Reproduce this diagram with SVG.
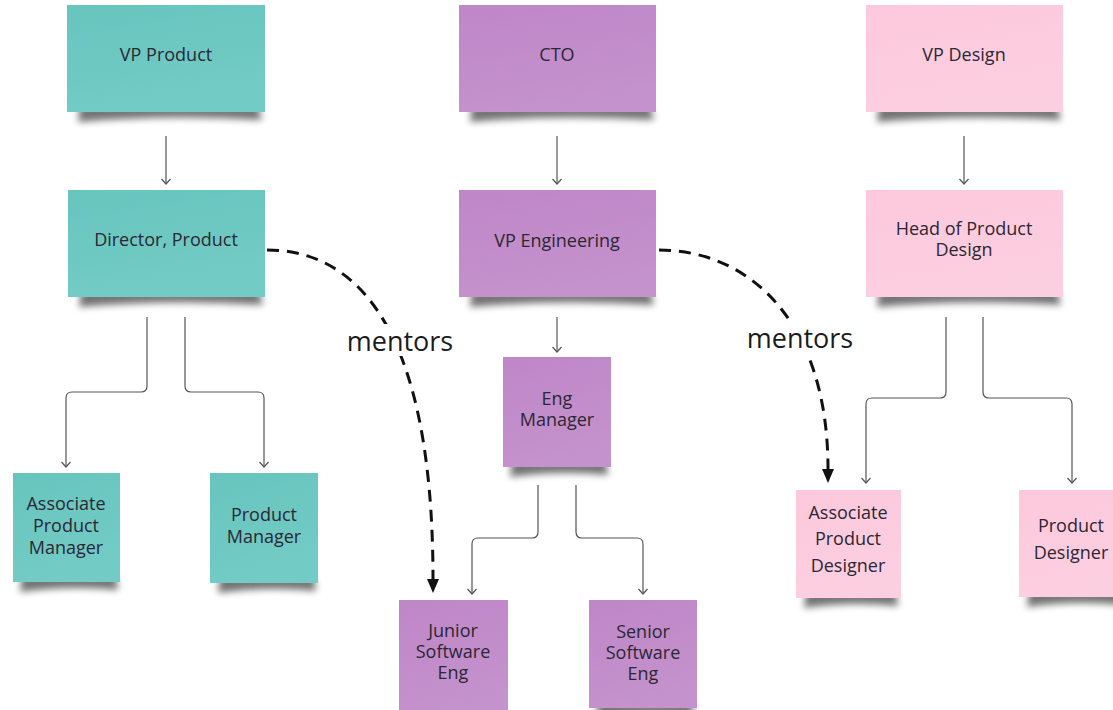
<svg xmlns="http://www.w3.org/2000/svg" width="1113" height="710" viewBox="0 0 1113 710">
<style>
  .t { font-family: "Open Sans", "Noto Sans", "Liberation Sans", sans-serif; font-size: 18px; fill: #2b2733; text-anchor: middle; }
  .m { font-family: "Open Sans", "Noto Sans", "Liberation Sans", sans-serif; font-size: 27px; fill: #1c1c1c; text-anchor: middle; }
  .ln { fill: none; stroke: #555; stroke-width: 1.2; marker-end: url(#open); }
  .ds { fill: none; stroke: #111; stroke-width: 3; stroke-dasharray: 12 8; marker-end: url(#solid); }
  .sh { fill: #000; opacity: 0.55; filter: url(#blur); }
  .teal { fill: url(#gTeal); }
  .purp { fill: url(#gPurp); }
  .pink { fill: url(#gPink); }
</style>
<defs>
  <filter id="blur" x="-20%" y="-100%" width="140%" height="300%">
    <feGaussianBlur stdDeviation="3.5"/>
  </filter>
  <linearGradient id="gTeal" x1="0" y1="0" x2="0.3" y2="1">
    <stop offset="0" stop-color="#67c5be"/>
    <stop offset="1" stop-color="#73cbc5"/>
  </linearGradient>
  <linearGradient id="gPurp" x1="0" y1="0" x2="0.3" y2="1">
    <stop offset="0" stop-color="#bf86c8"/>
    <stop offset="1" stop-color="#c492cc"/>
  </linearGradient>
  <linearGradient id="gPink" x1="0" y1="0" x2="0.3" y2="1">
    <stop offset="0" stop-color="#fdc8dc"/>
    <stop offset="1" stop-color="#fccfe0"/>
  </linearGradient>
  <marker id="open" markerUnits="userSpaceOnUse" markerWidth="12" markerHeight="12" viewBox="0 0 12 12" refX="8" refY="6" orient="auto">
    <path d="M3,1.5 L8,6 L3,10.5" fill="none" stroke="#555" stroke-width="1.2"/>
  </marker>
  <marker id="solid" markerUnits="userSpaceOnUse" markerWidth="16" markerHeight="14" viewBox="0 0 16 14" refX="0" refY="7" orient="auto">
    <path d="M0,1 L14,7 L0,13 z" fill="#111"/>
  </marker>
</defs>
<rect width="1113" height="710" fill="#fff"/>

<g id="connectors">
  <path class="ln" d="M166,136 V184"/>
  <path class="ln" d="M557,136 V184"/>
  <path class="ln" d="M964,136 V184"/>
  <path class="ln" d="M147,317 V386 Q147,392 141,392 H72 Q66,392 66,398 V467"/>
  <path class="ln" d="M185,317 V386 Q185,392 191,392 H258 Q264,392 264,398 V467"/>
  <path class="ln" d="M557,317 V352"/>
  <path class="ln" d="M538,485 V532 Q538,538 532,538 H478 Q472,538 472,544 V594"/>
  <path class="ln" d="M576,485 V532 Q576,538 582,538 H637 Q643,538 643,544 V594"/>
  <path class="ln" d="M946,317 V392 Q946,398 940,398 H872 Q866,398 866,404 V483"/>
  <path class="ln" d="M983,317 V392 Q983,398 989,398 H1066 Q1072,398 1072,404 V483"/>
  <path class="ds" d="M267,250 C358,250 433,330 433,579"/>
  <path class="ds" d="M659,250 C748,250 828,320 828,469"/>
  <rect x="343" y="324" width="114" height="32" fill="#fff"/>
  <rect x="743" y="322" width="114" height="32" fill="#fff"/>
  <text class="m" x="400" y="351">mentors</text>
  <text class="m" x="800" y="348">mentors</text>
</g>

<g id="vp-product">
  <path class="sh" d="M80,106 H258 L262,120 Q170,114 78,122 Z"/>
  <rect class="teal" x="67" y="5" width="198" height="107"/>
  <text class="t" x="166" y="61">VP Product</text>
</g>
<g id="director-product">
  <path class="sh" d="M81,291 H259 L263,305 Q170,299 79,307 Z"/>
  <rect class="teal" x="68" y="190" width="197" height="107"/>
  <text class="t" x="166" y="246">Director, Product</text>
</g>
<g id="associate-pm">
  <path class="sh" d="M22,576 H116 L118,590 Q70,585 20,592 Z"/>
  <rect class="teal" x="13" y="473" width="107" height="109"/>
  <text class="t" x="66" y="510">Associate</text>
  <text class="t" x="66" y="532">Product</text>
  <text class="t" x="66" y="554">Manager</text>
</g>
<g id="product-manager">
  <path class="sh" d="M220,577 H314 L316,591 Q268,586 218,593 Z"/>
  <rect class="teal" x="210" y="473" width="108" height="110"/>
  <text class="t" x="264" y="521">Product</text>
  <text class="t" x="264" y="543">Manager</text>
</g>

<g id="cto">
  <path class="sh" d="M472,106 H650 L654,120 Q560,114 470,122 Z"/>
  <rect class="purp" x="459" y="5" width="197" height="107"/>
  <text class="t" x="557" y="61">CTO</text>
</g>
<g id="vp-engineering">
  <path class="sh" d="M472,291 H650 L654,305 Q560,299 470,307 Z"/>
  <rect class="purp" x="459" y="190" width="197" height="107"/>
  <text class="t" x="557" y="247">VP Engineering</text>
</g>
<g id="eng-manager">
  <path class="sh" d="M512,461 H606 L608,475 Q560,470 510,477 Z"/>
  <rect class="purp" x="503" y="357" width="108" height="110"/>
  <text class="t" x="557" y="405">Eng</text>
  <text class="t" x="557" y="426">Manager</text>
</g>
<g id="junior-swe">
  <rect class="purp" x="399" y="600" width="109" height="115"/>
  <text class="t" x="453" y="637">Junior</text>
  <text class="t" x="453" y="658">Software</text>
  <text class="t" x="453" y="679">Eng</text>
</g>
<g id="senior-swe">
  <path class="sh" d="M598,702 H692 L694,716 Q645,711 596,718 Z"/>
  <rect class="purp" x="589" y="600" width="108" height="108"/>
  <text class="t" x="643" y="638">Senior</text>
  <text class="t" x="643" y="659">Software</text>
  <text class="t" x="643" y="680">Eng</text>
</g>

<g id="vp-design">
  <path class="sh" d="M879,106 H1057 L1061,120 Q965,114 877,122 Z"/>
  <rect class="pink" x="866" y="5" width="197" height="107"/>
  <text class="t" x="964" y="61">VP Design</text>
</g>
<g id="head-product-design">
  <path class="sh" d="M879,291 H1057 L1061,305 Q965,299 877,307 Z"/>
  <rect class="pink" x="866" y="190" width="197" height="107"/>
  <text class="t" x="964" y="235">Head of Product</text>
  <text class="t" x="964" y="256">Design</text>
</g>
<g id="associate-pd">
  <path class="sh" d="M806,592 H896 L898,606 Q850,601 804,608 Z"/>
  <rect class="pink" x="796" y="490" width="105" height="108"/>
  <text class="t" x="848" y="519">Associate</text>
  <text class="t" x="848" y="545">Product</text>
  <text class="t" x="848" y="572">Designer</text>
</g>
<g id="product-designer">
  <path class="sh" d="M1029,591 H1120 L1122,605 Q1075,600 1027,607 Z"/>
  <rect class="pink" x="1019" y="490" width="105" height="107"/>
  <text class="t" x="1071" y="532">Product</text>
  <text class="t" x="1071" y="559">Designer</text>
</g>
</svg>
